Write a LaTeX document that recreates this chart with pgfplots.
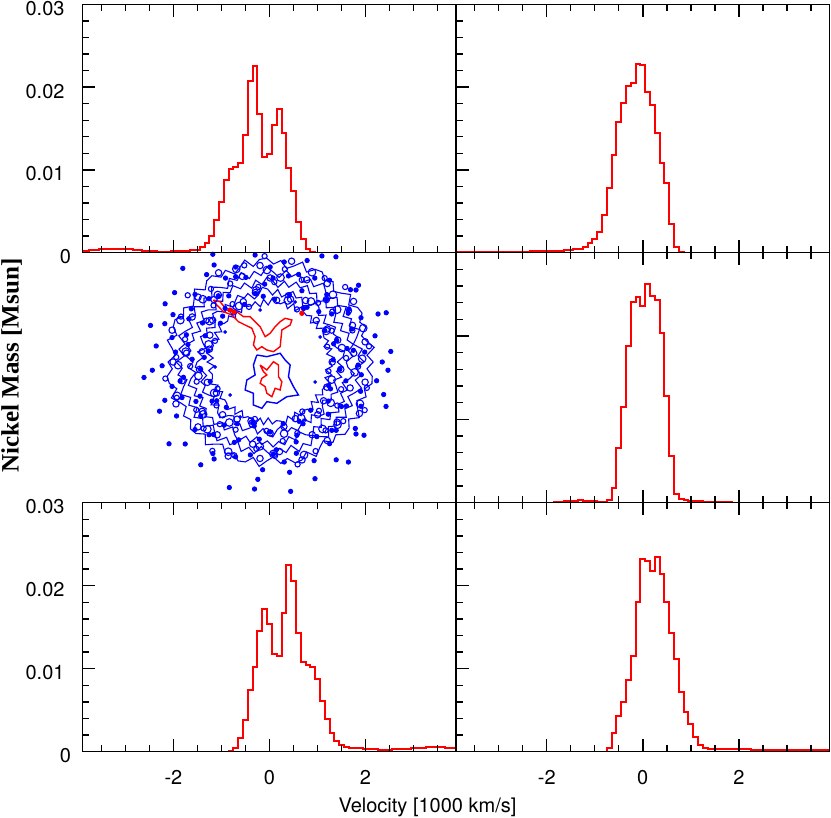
\documentclass[border=0pt]{standalone}
\usepackage{fontspec}
\setmainfont{TeX Gyre Heros}
\newfontfamily\labelserif{Liberation Serif}
\usepackage{pgfplots}
\pgfplotsset{compat=1.18}

\pgfplotsset{
  panel/.style={
    scale only axis, width=186.8pt, anchor=south west,
    xmin=-3.89, xmax=3.89, ymin=0, ymax=0.03,
    xtick={-2,0,2},
    minor xtick={-3.5,-3,-2.5,-1.5,-1,-0.5,0.5,1,1.5,2.5,3,3.5},
    ytick={0,0.01,0.02,0.03},
    minor ytick={0.002,0.004,0.006,0.008,0.012,0.014,0.016,0.018,0.022,0.024,0.026,0.028},
    xtick pos=both, ytick pos=left, tick align=inside,
    major tick length=6.3pt, minor tick length=3.3pt,
    tick style={black, line width=0.7pt},
    axis line style={line width=0.75pt},
    xticklabels={}, yticklabels={},
    scaled y ticks=false,
    axis on top,
    tick label style={font=\fontsize{10}{12}\selectfont},
  },
  ylab/.style={
    yticklabels={0,{0.01\kern3.2pt},{0.02\kern3.2pt},{0.03\kern3.2pt}},
    yticklabel style={anchor=east, inner sep=0pt, xshift=-5.7pt, yshift=-2pt}},
  xlab/.style={
    xticklabels={-2,0,2},
    xticklabel style={anchor=north, inner sep=0pt, yshift=-9.2pt}},
  hist/.style={const plot mark mid, draw=red, line width=1pt, mark=none, line join=miter},
  blob/.style={only marks, mark=o, blue, mark options={line width=0.55pt}, data cs=polar},
  band/.style={blue, line width=0.55pt, data cs=polar},
}

\begin{document}
\begin{tikzpicture}
\useasboundingbox (0,0) rectangle (415.5pt,409pt);

% middle left: projected map (blue ring, red core)
\begin{axis}[scale only axis, width=186.8pt, height=125pt, anchor=south west,
  at={(41.35pt,157.65pt)}, hide axis, clip=true,
  xmin=-187.3, xmax=186, ymin=-140.7, ymax=109.3]
% contour bands of the ring, polar (angle, radius)
\addplot[band] coordinates {
(0,60)(4,64)(8,57)(12,63)(16,56)(20,62)(24,59)(28,60)(32,64)(36,57)(40,63)(44,56)(48,62)
(52,59)(56,60)(60,64)(64,57)(68,63)(72,56)(76,62)(80,59)(84,60)(88,64)(92,57)(96,63)
(100,56)(104,62)(108,59)(112,60)(116,64)(120,57)(124,63)(128,56)(132,62)(136,59)(140,60)
(144,64)(148,57)(152,63)(156,56)(160,62)(164,59)(168,60)(172,64)(176,57)(180,63)(184,56)
(188,62)(192,59)(196,60)(200,64)(204,57)(208,63)(212,56)(216,62)(220,59)(224,60)(228,64)
(232,57)(236,63)(240,56)(244,62)(248,59)(252,60)(256,64)(260,57)(264,63)(268,56)(272,62)
(276,59)(280,60)(284,64)(288,57)(292,63)(296,56)(300,62)(304,59)(308,60)(312,64)(316,57)
(320,63)(324,56)(328,62)(332,59)(336,60)(340,64)(344,57)(348,63)(352,56)(356,62)(360,60)};
\addplot[band] coordinates {
(0,67)(4,73)(8,75)(12,68)(16,65)(20,72)(24,69)(28,74)(32,70)(36,66)(40,73)(44,67)(48,73)
(52,75)(56,68)(60,65)(64,72)(68,69)(72,74)(76,70)(80,66)(84,73)(88,67)(92,73)(96,75)
(100,68)(104,65)(108,72)(112,69)(116,74)(120,70)(124,66)(128,73)(132,67)(136,73)(140,75)
(144,68)(148,65)(152,72)(156,69)(160,74)(164,70)(168,66)(172,73)(176,67)(180,73)(184,75)
(188,68)(192,65)(196,72)(200,69)(204,74)(208,70)(212,66)(216,73)(220,67)(224,73)(228,75)
(232,68)(236,65)(240,72)(244,69)(248,74)(252,70)(256,66)(260,73)(264,67)(268,73)(272,75)
(276,68)(280,65)(284,72)(288,69)(292,74)(296,70)(300,66)(304,73)(308,67)(312,73)(316,75)
(320,68)(324,65)(328,72)(332,69)(336,74)(340,70)(344,66)(348,73)(352,67)(356,73)(360,67)};
\addplot[band] coordinates {
(0,76)(4,83)(8,79)(12,85)(16,80)(20,84)(24,77)(28,82)(32,75)(36,81)(40,85)(44,78)(48,83)
(52,76)(56,83)(60,79)(64,85)(68,80)(72,84)(76,77)(80,82)(84,75)(88,81)(92,85)(96,78)
(100,83)(104,76)(108,83)(112,79)(116,85)(120,80)(124,84)(128,77)(132,82)(136,75)(140,81)
(144,85)(148,78)(152,83)(156,76)(160,83)(164,79)(168,85)(172,80)(176,84)(180,77)(184,82)
(188,75)(192,81)(196,85)(200,78)(204,83)(208,76)(212,83)(216,79)(220,85)(224,80)(228,84)
(232,77)(236,82)(240,75)(244,81)(248,85)(252,78)(256,83)(260,76)(264,83)(268,79)(272,85)
(276,80)(280,84)(284,77)(288,82)(292,75)(296,81)(300,85)(304,78)(308,83)(312,76)(316,83)
(320,79)(324,85)(328,80)(332,84)(336,77)(340,82)(344,75)(348,81)(352,85)(356,78)(360,76)};
\addplot[band] coordinates {
(0,94)(4,88)(8,93)(12,85)(16,90)(20,95)(24,87)(28,92)(32,86)(36,94)(40,88)(44,93)(48,85)
(52,90)(56,95)(60,87)(64,92)(68,86)(72,94)(76,88)(80,93)(84,85)(88,90)(92,95)(96,87)
(100,92)(104,86)(108,94)(112,88)(116,93)(120,85)(124,90)(128,95)(132,87)(136,92)(140,86)
(144,94)(148,88)(152,93)(156,85)(160,90)(164,95)(168,87)(172,92)(176,86)(180,94)(184,88)
(188,93)(192,85)(196,90)(200,95)(204,87)(208,92)(212,86)(216,94)(220,88)(224,93)(228,85)
(232,90)(236,95)(240,87)(244,92)(248,86)(252,94)(256,88)(260,93)(264,85)(268,90)(272,95)
(276,87)(280,92)(284,86)(288,94)(292,88)(296,93)(300,85)(304,90)(308,95)(312,87)(316,92)
(320,86)(324,94)(328,88)(332,93)(336,85)(340,90)(344,95)(348,87)(352,92)(356,86)(360,94)};
\addplot[band] coordinates {
(0,103)(4,97)(8,105)(12,99)(16,95)(20,102)(24,98)(28,104)(32,103)(36,97)(40,105)(44,99)
(48,95)(52,102)(56,98)(60,104)(64,103)(68,97)(72,105)(76,99)(80,95)(84,102)(88,98)
(92,104)(96,103)(100,97)(104,105)(108,99)(112,95)(116,102)(120,98)(124,104)(128,103)
(132,97)(136,105)(140,99)(144,95)(148,102)(152,98)(156,104)(160,103)(164,97)(168,105)
(172,99)(176,95)(180,102)(184,98)(188,104)(192,103)(196,97)(200,105)(204,99)(208,95)
(212,102)(216,98)(220,104)(224,103)(228,97)(232,105)(236,99)(240,95)(244,102)(248,98)
(252,104)(256,103)(260,97)(264,105)(268,99)(272,95)(276,102)(280,98)(284,104)(288,103)
(292,97)(296,105)(300,99)(304,95)(308,102)(312,98)(316,104)(320,103)(324,97)(328,105)
(332,99)(336,95)(340,102)(344,98)(348,104)(352,103)(356,97)(360,103)};
% small contour islands
\addplot[blob, mark size=1.6pt] coordinates {
(0,62)(6,84)(12,97)(18,71)(24,90)(30,66)(36,103)(42,62)(48,84)(54,97)(60,71)(66,90)
(72,66)(78,103)(84,62)(90,84)(96,97)(102,71)(108,90)(114,66)(120,103)(126,62)(132,84)
(138,97)(144,71)(150,90)(156,66)(162,103)(168,62)(174,84)(180,97)(186,71)(192,90)
(198,66)(204,103)(210,62)(216,84)(222,97)(228,71)(234,90)(240,66)(246,103)(252,62)
(258,84)(264,97)(270,71)(276,90)(282,66)(288,103)(294,62)(300,84)(306,97)(312,71)
(318,90)(324,66)(330,103)(336,62)(342,84)(348,97)(354,71)};
\addplot[blob, mark size=1.3pt] coordinates {
(3,76)(9,100)(15,59)(21,88)(27,69)(33,94)(39,80)(45,106)(51,76)(57,100)(63,59)(69,88)
(75,69)(81,94)(87,80)(93,106)(99,76)(105,100)(111,59)(117,88)(123,69)(129,94)(135,80)
(141,106)(147,76)(153,100)(159,59)(165,88)(171,69)(177,94)(183,80)(189,106)(195,76)
(201,100)(207,59)(213,88)(219,69)(225,94)(231,80)(237,106)(243,76)(249,100)(255,59)
(261,88)(267,69)(273,94)(279,80)(285,106)(291,76)(297,100)(303,59)(309,88)(315,69)
(321,94)(327,80)(333,106)(339,76)(345,100)(351,59)(357,88)};
\addplot[blob, mark size=1.9pt] coordinates {
(2,92)(11,73)(20,99)(29,64)(38,85)(47,92)(56,73)(65,99)(74,64)(83,85)(92,92)(101,73)
(110,99)(119,64)(128,85)(137,92)(146,73)(155,99)(164,64)(173,85)(182,92)(191,73)
(200,99)(209,64)(218,85)(227,92)(236,73)(245,99)(254,64)(263,85)(272,92)(281,73)
(290,99)(299,64)(308,85)(317,92)(326,73)(335,99)(344,64)(353,85)};
% isolated contour dots
\addplot[only marks, mark=*, mark size=1.1pt, blue, data cs=polar] coordinates {
(2,63)(6,95)(10,78)(14,108)(18,70)(22,88)(26,101)(30,63)(34,95)(38,78)(42,108)(46,70)
(50,88)(54,101)(58,63)(62,95)(66,78)(70,108)(74,70)(78,88)(82,101)(86,63)(90,95)(94,78)
(98,108)(102,70)(106,88)(110,101)(114,63)(118,95)(122,78)(126,108)(130,70)(134,88)
(138,101)(142,63)(146,95)(150,78)(154,108)(158,70)(162,88)(166,101)(170,63)(174,95)
(178,78)(182,108)(186,70)(190,88)(194,101)(198,63)(202,95)(206,78)(210,108)(214,70)
(218,88)(222,101)(226,63)(230,95)(234,78)(238,108)(242,70)(246,88)(250,101)(254,63)
(258,95)(262,78)(266,108)(270,70)(274,88)(278,101)(282,63)(286,95)(290,78)(294,108)
(298,70)(302,88)(306,101)(310,63)(314,95)(318,78)(322,108)(326,70)(330,88)(334,101)
(338,63)(342,95)(346,78)(350,108)(354,70)(358,88)
(0,112)(8,84)(16,66)(24,118)(32,92)(40,112)(48,84)(56,66)(64,118)(72,92)(80,112)(88,84)
(96,66)(104,118)(112,92)(120,112)(128,84)(136,66)(144,118)(152,92)(160,112)(168,84)
(176,66)(184,118)(192,92)(200,112)(208,84)(216,66)(224,118)(232,92)(240,112)(248,84)
(256,66)(264,118)(272,92)(280,112)(288,84)(296,66)(304,118)(312,92)(320,112)(328,84)
(336,66)(344,118)(352,92)
(5,121)(23,126)(41,117)(58,124)(118,122)(133,128)(151,120)(163,125)(172,115)(187,127)
(204,121)(219,130)(236,124)(252,132)(263,128)(279,131)(291,125)(308,127)(322,119)
(339,124)(356,118)};
\addplot[only marks, mark=*, mark size=0.7pt, blue] coordinates {
(-40,-33)(-55,-5)(45,-20)(-30,-55)(35,-58)(-10,52)(25,60)(-45,30)(50,25)};
% central blue contour
\addplot[blue, line width=0.7pt] coordinates {
(-13.3,7)(-3.3,5.3)(10,8.7)(15,2)(20,-3)(18.3,-14.7)(23.3,-24.7)(28.3,-33)(16.7,-34.7)
(6.7,-41.3)(-3.3,-39.7)(-8.3,-46.3)(-16.7,-43)(-16.7,-31.3)(-25,-28)(-23.3,-18)
(-15,-13)(-16.7,-3)(-13.3,7)};
% red core contours
\addplot[red, line width=0.7pt] coordinates {
(-56.7,62)(-50,60.3)(-43.3,52)(-33.3,50.3)(-26.7,45.3)(-20,45.3)(-15,40.3)(-10,35.3)
(-5,25.3)(0,28.7)(5,35.3)(10,40.3)(15,43.7)(21.7,42)(20,37)(11.7,32)(10,15.3)(3.3,10.3)
(-3.3,12)(-8.3,15.3)(-13.3,12)(-16.7,17)(-15,25.3)(-18.3,33.7)(-25,37)(-31.7,40.3)
(-38.3,47)(-46.7,50.3)(-53.3,57)(-56.7,62)};
\addplot[red, line width=0.7pt] coordinates {
(-10,-3)(-3.3,-8)(3.3,0.3)(8.3,-3)(8.3,-14.7)(11.7,-19.7)(10,-28)(5,-26.3)(1.7,-34.7)
(-3.3,-31.3)(-5,-24.7)(-10,-21.3)(-8.3,-16.3)(-3.3,-13)(-6.7,-9.7)(-10,-3)};
\addplot[only marks, mark=*, mark size=1.1pt, red] coordinates {(31.7,48.7)(-40,52)(-36,50)};
\end{axis}

% top left
\begin{axis}[panel, ylab, height=124.2pt, at={(41.35pt,282.65pt)}]
\addplot[hist] coordinates {
(-3.9,0.00015)(-3.8,0.00022)(-3.7,0.0003)(-3.6,0.00038)(-3.5,0.00042)(-3.4,0.00046)
(-3.3,0.0005)(-3.2,0.0005)(-3.1,0.00048)(-3.0,0.00045)(-2.9,0.0004)(-2.8,0.00035)
(-2.7,0.0003)(-2.6,0.00025)(-2.5,0.0002)(-2.4,0.00016)(-2.3,0.00013)(-2.2,0.00012)
(-2.1,0.00013)(-2.0,0.00015)(-1.9,0.00018)(-1.8,0.00022)(-1.7,0.00026)(-1.6,0.0003)
(-1.5,0.00035)(-1.4,0.0007)(-1.3,0.0012)(-1.2,0.0020)(-1.1,0.0039)(-1.0,0.0061)
(-0.9,0.0088)(-0.8,0.0101)(-0.7,0.0103)(-0.6,0.0108)(-0.5,0.0142)(-0.4,0.0207)
(-0.3,0.0226)(-0.2,0.0167)(-0.1,0.0115)(0.0,0.0119)(0.1,0.0154)(0.2,0.0173)(0.3,0.0145)
(0.4,0.0102)(0.5,0.0074)(0.6,0.0037)(0.7,0.0016)(0.8,0.0005)(0.9,0.0001)(1.0,0)(3.9,0)};
\end{axis}

% top right
\begin{axis}[panel, height=124.2pt, at={(228pt,282.65pt)}]
\addplot[hist] coordinates {
(-3.9,0.00005)(-3.8,0.00005)(-3.7,0.00006)(-3.6,0.00007)(-3.5,0.00008)(-3.4,0.00009)
(-3.3,0.0001)(-3.2,0.0001)(-3.1,0.0001)(-3.0,0.0001)(-2.9,0.00011)(-2.8,0.00012)
(-2.7,0.00012)(-2.6,0.00013)(-2.5,0.00013)(-2.4,0.00014)(-2.3,0.00015)(-2.2,0.00016)
(-2.1,0.00018)(-2.0,0.0002)(-1.9,0.00022)(-1.8,0.00024)(-1.7,0.00026)(-1.6,0.0003)
(-1.5,0.00035)(-1.4,0.0004)(-1.3,0.0005)(-1.2,0.0007)(-1.1,0.0012)(-1.0,0.0017)
(-0.9,0.0025)(-0.8,0.0045)(-0.7,0.0078)(-0.6,0.0118)(-0.5,0.0158)(-0.4,0.0181)
(-0.3,0.0201)(-0.2,0.0205)(-0.1,0.0228)(0.0,0.0227)(0.1,0.0194)(0.2,0.0178)(0.3,0.0145)
(0.4,0.0108)(0.5,0.0084)(0.6,0.0035)(0.7,0.0007)(0.8,0.0001)(0.9,0)(3.9,0)};
\end{axis}

% middle right
\begin{axis}[panel, height=125pt, at={(228pt,157.65pt)}]
\addplot[hist] coordinates {
(-3.9,0)(-1.9,0)(-1.8,0.00005)(-1.7,0.0001)(-1.6,0.00015)(-1.5,0.0002)(-1.4,0.00025)
(-1.3,0.0003)(-1.2,0.00025)(-1.1,0.0002)(-1.0,0.0002)(-0.9,0.0001)(-0.8,0.0001)
(-0.7,0.0003)(-0.6,0.0018)(-0.5,0.0066)(-0.4,0.0115)(-0.3,0.0188)(-0.2,0.0241)
(-0.1,0.0247)(0.0,0.0236)(0.1,0.0263)(0.2,0.0248)(0.3,0.0243)(0.4,0.0204)(0.5,0.0128)
(0.6,0.0056)(0.7,0.0010)(0.8,0.0004)(0.9,0.0003)(1.0,0.0002)(1.1,0.0002)(1.2,0.00015)
(1.3,0.00012)(1.4,0.0001)(1.5,0.0001)(1.6,0.00008)(1.7,0.00005)(1.8,0.00003)(1.9,0)(3.9,0)};
\end{axis}

% bottom left
\begin{axis}[panel, ylab, xlab, height=124.5pt, at={(41.35pt,33.15pt)}]
\addplot[hist] coordinates {
(-3.9,0)(-0.9,0)(-0.8,0.0001)(-0.7,0.0005)(-0.6,0.0016)(-0.5,0.0038)(-0.4,0.0074)
(-0.3,0.0102)(-0.2,0.0145)(-0.1,0.0172)(0.0,0.0154)(0.1,0.0118)(0.2,0.0115)(0.3,0.0167)
(0.4,0.0225)(0.5,0.0206)(0.6,0.0143)(0.7,0.0108)(0.8,0.0104)(0.9,0.0102)(1.0,0.0088)
(1.1,0.0061)(1.2,0.0039)(1.3,0.0022)(1.4,0.0013)(1.5,0.0008)(1.6,0.0006)(1.7,0.0005)
(1.8,0.00045)(1.9,0.0004)(2.0,0.00035)(2.1,0.0003)(2.2,0.00027)(2.3,0.00025)(2.4,0.00025)
(2.5,0.00025)(2.6,0.00027)(2.7,0.0003)(2.8,0.00033)(2.9,0.00036)(3.0,0.0004)(3.1,0.00044)
(3.2,0.00048)(3.3,0.00052)(3.4,0.00055)(3.5,0.00055)(3.6,0.00052)(3.7,0.0005)
(3.8,0.00045)(3.9,0.0004)};
\end{axis}

% bottom right
\begin{axis}[panel, xlab, height=124.5pt, at={(228pt,33.15pt)}]
\addplot[hist] coordinates {
(-3.9,0)(-0.8,0)(-0.7,0.0005)(-0.6,0.0022)(-0.5,0.0043)(-0.4,0.0060)(-0.3,0.0086)
(-0.2,0.0115)(-0.1,0.0180)(0.0,0.0232)(0.1,0.0230)(0.2,0.0218)(0.3,0.0235)(0.4,0.0214)
(0.5,0.0180)(0.6,0.0143)(0.7,0.0112)(0.8,0.0072)(0.9,0.0048)(1.0,0.0033)(1.1,0.0018)
(1.2,0.0008)(1.3,0.0005)(1.4,0.0003)(1.5,0.0003)(1.6,0.0003)(1.7,0.0003)(1.8,0.0003)
(1.9,0.0003)(2.0,0.0003)(2.1,0.0003)(2.2,0.00028)(2.3,0.00026)(2.4,0.00024)(2.5,0.00022)
(2.6,0.0002)(3.9,0.0002)};
\end{axis}

\node[anchor=base, font=\fontsize{10}{12}\selectfont] at (213.75pt,2.5pt) {Velocity [1000 km/s]};
\node[rotate=90, font=\labelserif\bfseries\fontsize{12.5}{15}\selectfont] at (5.75pt,226.25pt) {Nickel Mass [Msun]};
\end{tikzpicture}
\end{document}
